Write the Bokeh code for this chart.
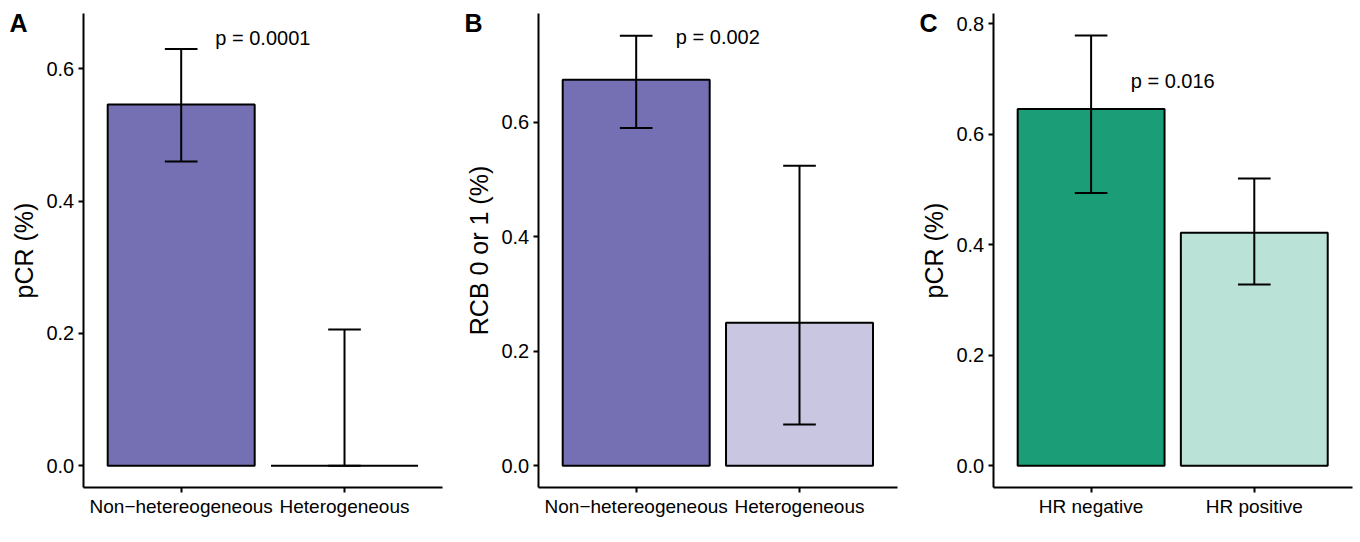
from bokeh.plotting import figure
from bokeh.layouts import row
from bokeh.models import FixedTicker, Range1d, Label
from bokeh.embed import file_html
from bokeh.resources import INLINE

FONT = "Liberation Sans"

# Panel A
a_cats = ["Non\u2212hetereogeneous", "Heterogeneous"]
a_vals = [0.546, 0.0]
a_lo = [0.460, 0.0]
a_hi = [0.630, 0.206]
a_colors = ["#7570B3", "#C8C6E1"]
a_p = "p = 0.0001"
a_ylabel = "pCR (%)"
a_ticks = [0.0, 0.2, 0.4, 0.6]

# Panel B
b_cats = ["Non\u2212hetereogeneous", "Heterogeneous"]
b_vals = [0.674, 0.250]
b_lo = [0.590, 0.072]
b_hi = [0.751, 0.524]
b_colors = ["#7570B3", "#C8C6E1"]
b_p = "p = 0.002"
b_ylabel = "RCB 0 or 1 (%)"
b_ticks = [0.0, 0.2, 0.4, 0.6]

# Panel C
c_cats = ["HR negative", "HR positive"]
c_vals = [0.646, 0.422]
c_lo = [0.494, 0.328]
c_hi = [0.779, 0.520]
c_colors = ["#1B9E77", "#BBE2D6"]
c_p = "p = 0.016"
c_ylabel = "pCR (%)"
c_ticks = [0.0, 0.2, 0.4, 0.6, 0.8]

H = 540
BOX_TOP = 13.0      # pixel row of the axis box top
BOX_BOTTOM = 487.0  # pixel row of the x axis line
BOX_LEFT = 82.7     # pixel column of the y axis line (within each figure)


def panel(letter, cats, vals, lo, hi, colors, ptext, p_y, ylabel, ticks,
          ymin, ymax, width, box_right):
    xs = list(range(1, len(cats) + 1))
    x0, x1 = 0.4, len(cats) + 0.6
    ux = (x1 - x0) / (box_right - BOX_LEFT)
    uy = (ymax - ymin) / (BOX_BOTTOM - BOX_TOP)
    xr = Range1d(x0 - BOX_LEFT * ux, x1 + (width - box_right) * ux)
    yr = Range1d(ymin - (H - BOX_BOTTOM) * uy, ymax + BOX_TOP * uy)

    p = figure(width=width, height=H, output_backend="svg", toolbar_location=None,
               x_range=xr, y_range=yr, min_border=0)
    p.outline_line_color = None
    p.grid.visible = False
    p.background_fill_color = "white"
    p.border_fill_color = "white"

    p.vbar(x=xs, top=vals, bottom=0, width=0.9, fill_color=colors,
           line_color="black", line_width=2)
    p.segment(x0=xs, x1=xs, y0=lo, y1=hi, line_color="black", line_width=2)
    p.segment(x0=[x - 0.1 for x in xs], x1=[x + 0.1 for x in xs], y0=hi, y1=hi,
              line_color="black", line_width=2)
    p.segment(x0=[x - 0.1 for x in xs], x1=[x + 0.1 for x in xs], y0=lo, y1=lo,
              line_color="black", line_width=2)

    p.add_layout(Label(x=1.5, y=p_y, text=ptext, text_font=FONT, text_font_size="20px",
                       text_align="center", text_baseline="middle", text_color="black"))

    for ax in (p.xaxis[0], p.yaxis[0]):
        ax.axis_line_color = "black"
        ax.axis_line_width = 2
        ax.major_tick_line_color = "black"
        ax.major_tick_line_width = 2
        ax.major_tick_out = 5
        ax.major_tick_in = 0
        ax.minor_tick_line_color = None
        ax.major_label_text_font = FONT
        ax.major_label_text_color = "black"
        ax.axis_label_text_font = FONT
        ax.axis_label_text_font_style = "normal"
        ax.axis_label_text_color = "black"

    p.xaxis.fixed_location = ymin
    p.xaxis.bounds = (x0, x1)
    p.xaxis.ticker = FixedTicker(ticks=xs)
    p.xaxis.major_label_overrides = {x: c for x, c in zip(xs, cats)}
    p.xaxis.major_label_standoff = 3
    p.xaxis.major_label_text_font_size = "19px"

    p.yaxis.fixed_location = x0
    p.yaxis.bounds = (ymin, ymax)
    p.yaxis.ticker = FixedTicker(ticks=ticks)
    p.yaxis.major_label_overrides = {t: f"{t:.1f}" for t in ticks}
    p.yaxis.major_label_standoff = 4
    p.yaxis.major_label_text_font_size = "20px"
    p.yaxis.axis_label = ylabel
    p.yaxis.axis_label_text_font_size = "25px"
    p.yaxis.axis_label_standoff = 6

    p.add_layout(Label(x=9, y=H - 22, x_units="screen", y_units="screen",
                       text=letter, text_font=FONT, text_font_style="bold",
                       text_font_size="25px", text_baseline="middle", text_color="black"))
    return p


pa = panel("A", a_cats, a_vals, a_lo, a_hi, a_colors, a_p, 0.647, a_ylabel, a_ticks,
           -0.0328, 0.6836, 455, 442.0)
pb = panel("B", b_cats, b_vals, b_lo, b_hi, b_colors, b_p, 0.748, b_ylabel, b_ticks,
           -0.0379, 0.7898, 455, 442.0)
pc = panel("C", c_cats, c_vals, c_lo, c_hi, c_colors, c_p, 0.697, c_ylabel, c_ticks,
           -0.0393, 0.8187, 450, 441.7)

layout = row(pa, pb, pc, spacing=0)
open("out.html", "w").write(file_html(layout, INLINE))
